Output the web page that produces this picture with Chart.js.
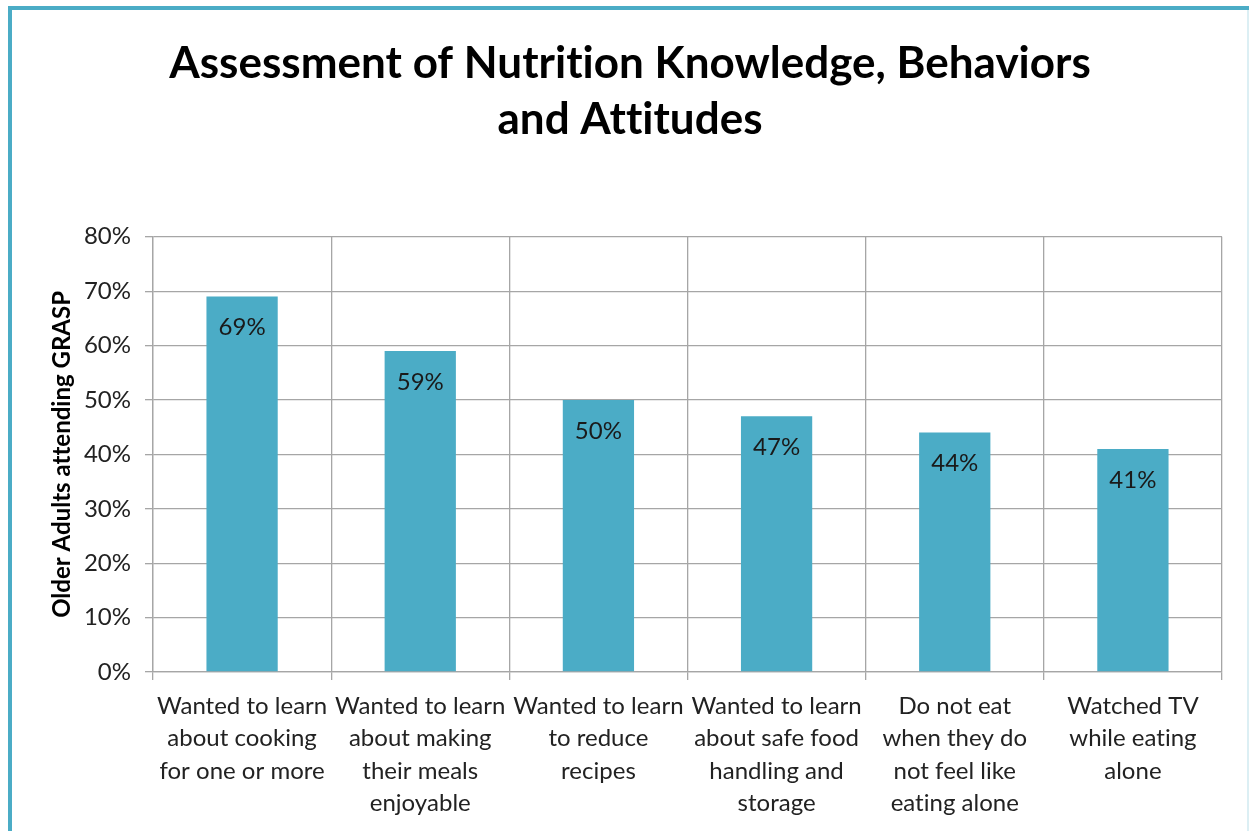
<!DOCTYPE html>
<html>
<head>
<meta charset="utf-8">
<script src="https://cdn.jsdelivr.net/npm/chart.js@4.4.0/dist/chart.umd.min.js"></script>
<style>
  html, body { margin: 0; padding: 0; background: #fff; }
  #wrap { position: relative; width: 1249px; height: 831px; overflow: hidden; }
  #frame { position: absolute; left: 8px; top: 6px; width: 1300px; height: 900px;
           border-left: 4px solid #4BACC6; border-top: 4px solid #4BACC6; }
  #edge { position: absolute; left: 1247px; top: 10px; width: 2px; height: 821px; background: #DCEFF4; }
  canvas { position: absolute; left: 0; top: 0; }
</style>
</head>
<body>
<div id="wrap">
  <div id="frame"></div>
  <div id="edge"></div>
  <canvas id="chart" width="1249" height="831"></canvas>
</div>
<script>
const categories = [
  ['Wanted to learn', 'about cooking', 'for one or more'],
  ['Wanted to learn', 'about making', 'their meals', 'enjoyable'],
  ['Wanted to learn', 'to reduce', 'recipes'],
  ['Wanted to learn', 'about safe food', 'handling and', 'storage'],
  ['Do not eat', 'when they do', 'not feel like', 'eating alone'],
  ['Watched TV', 'while eating', 'alone']
];
const values = [69, 59, 50, 47, 44, 41];
const titleLines = ['Assessment of Nutrition Knowledge, Behaviors', 'and Attitudes'];
const yTitle = 'Older Adults attending GRASP';

// tiny letter spacing switches off the Lato "ti" ligature
const noLigatures = {
  id: 'noLigatures',
  beforeDraw(chart) { chart.ctx.letterSpacing = '0.01px'; }
};

const valueLabels = {
  id: 'valueLabels',
  afterDatasetsDraw(chart) {
    const ctx = chart.ctx;
    const meta = chart.getDatasetMeta(0);
    ctx.save();
    ctx.font = '24px Lato, sans-serif';
    ctx.fillStyle = '#1a1a1a';
    ctx.textAlign = 'center';
    ctx.textBaseline = 'middle';
    meta.data.forEach(function(bar, i) {
      ctx.fillText(values[i] + '%', bar.x, bar.y + 31);
    });
    ctx.restore();
  }
};

Chart.defaults.font.family = 'Lato, "Open Sans", sans-serif';
Chart.defaults.color = '#222';

new Chart(document.getElementById('chart'), {
  type: 'bar',
  data: {
    labels: categories,
    datasets: [{
      data: values,
      backgroundColor: '#4BACC6',
      categoryPercentage: 1,
      barPercentage: 0.4
    }]
  },
  options: {
    responsive: false,
    animation: false,
    layout: { padding: { left: 38, right: 27, top: 32, bottom: 0 } },
    plugins: {
      legend: { display: false },
      tooltip: { enabled: false },
      title: {
        display: true,
        text: titleLines,
        color: '#000',
        font: { family: 'Lato, sans-serif', size: 44, weight: 'bold', lineHeight: 1.27 },
        padding: { top: 4, bottom: 89 }
      }
    },
    scales: {
      x: {
        grid: { color: '#A6A6A6', lineWidth: 1.3, tickLength: 8, offset: true },
        border: { color: '#A6A6A6', width: 1.3 },
        ticks: {
          autoSkip: false, maxRotation: 0, minRotation: 0,
          font: { size: 24, lineHeight: 1.35 }, color: '#222', padding: 10
        },
        afterFit(scale) { scale.height = 159; }
      },
      y: {
        min: 0, max: 80,
        grid: { color: '#A6A6A6', lineWidth: 1.3, tickLength: 8 },
        border: { color: '#A6A6A6', width: 1.3 },
        ticks: {
          stepSize: 10,
          font: { size: 24 }, color: '#222', padding: 14,
          callback: function(v) { return v + '%'; }
        },
        title: {
          display: true, text: yTitle, color: '#000',
          font: { family: 'Lato, sans-serif', size: 24, weight: 'bold' },
          padding: { top: 10, bottom: 0 }
        },
        afterFit(scale) { scale.width = 115; }
      }
    }
  },
  plugins: [noLigatures, valueLabels]
});
</script>
</body>
</html>
